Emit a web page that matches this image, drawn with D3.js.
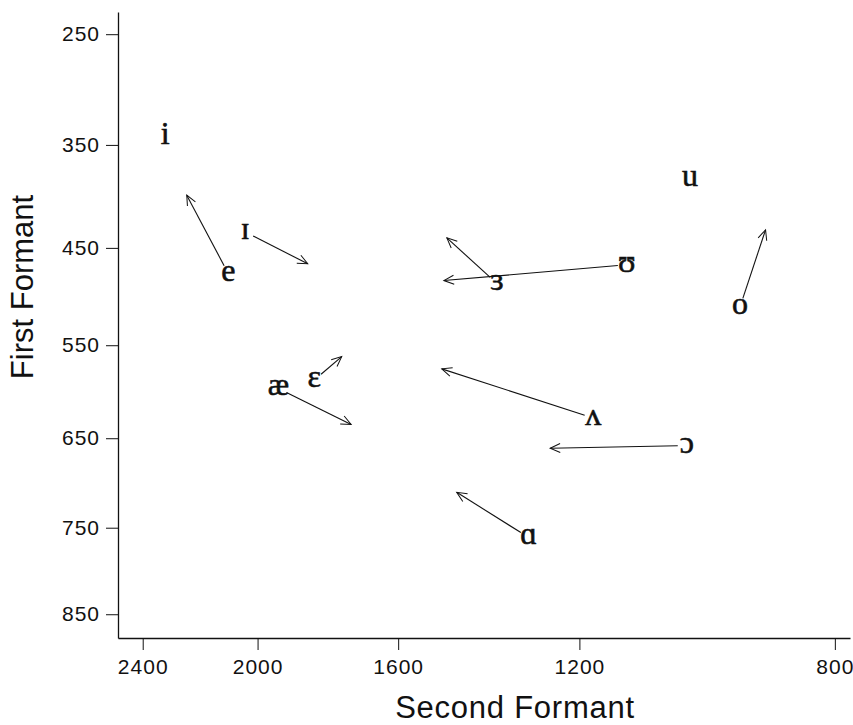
<!DOCTYPE html>
<html>
<head>
<meta charset="utf-8">
<script src="https://cdn.jsdelivr.net/npm/d3@7"></script>
<style>
  body { margin: 0; background: #fff; }
  .axis text { font-family: "Liberation Sans", Arial, sans-serif; font-size: 21px; letter-spacing: 1px; fill: #111; }
  .axis path, .axis line { stroke: #111; }
</style>
</head>
<body>
<svg id="chart"></svg>
<script>
var width = 853,
    height = 725;

// vowel, onset (F2, F1) and where the arrow goes (F2, F1), in Hz
var vowels = ['i', 'e', 'ɪ', 'ɛ', 'æ', 'ɜ', 'ʊ', 'u', 'o', 'ʌ', 'ɔ', 'ɑ'];
var f2From = [2316, 2095, 2040, 1828, 1935, 1368, 1113, 1007, 930, 1174, 1012, 1301];
var f1From = [343, 476, 434, 587, 596, 486, 467, 382, 510, 628, 658, 761];
var f2To   = [null, 2238, 1847, 1750, 1724, 1481, 1488, null, 893, 1493, 1257, 1458];
var f1To   = [null, 398, 466, 562, 635, 440, 483, null, 432, 575, 661, 710];

var f2Ticks = [2400, 2000, 1600, 1200, 800];
var f1Ticks = [250, 350, 450, 550, 650, 750, 850];

var x = d3.scaleLog().domain([2496, 781]).range([118, 850]);
var y = d3.scalePow().exponent(0.75).domain([231, 878]).range([12, 638]);

var svg = d3.select('#chart')
    .attr('width', width)
    .attr('height', height);

svg.append('defs').append('marker')
    .attr('id', 'head')
    .attr('viewBox', '-12 -7 14 14')
    .attr('refX', 0)
    .attr('refY', 0)
    .attr('markerWidth', 14)
    .attr('markerHeight', 14)
    .attr('markerUnits', 'userSpaceOnUse')
    .attr('orient', 'auto')
  .append('path')
    .attr('d', 'M-10,-4.5L0,0L-10,4.5')
    .attr('fill', 'none')
    .attr('stroke', '#111')
    .attr('stroke-width', 1);

// axes
svg.append('g')
    .attr('class', 'axis')
    .attr('transform', 'translate(0,638)')
    .call(d3.axisBottom(x)
        .tickValues(f2Ticks)
        .tickFormat(d3.format('d'))
        .tickSize(12)
        .tickSizeOuter(0)
        .tickPadding(9.5));

svg.append('g')
    .attr('class', 'axis')
    .attr('transform', 'translate(118,0)')
    .call(d3.axisLeft(y)
        .tickValues(f1Ticks)
        .tickFormat(d3.format('d'))
        .tickSize(12)
        .tickSizeOuter(0)
        .tickPadding(6));

svg.selectAll('.axis path').attr('stroke-width', 1.3);

// axis titles
svg.append('text')
    .attr('x', 515)
    .attr('y', 718)
    .attr('text-anchor', 'middle')
    .style('font-family', '"Liberation Sans", Arial, sans-serif')
    .style('font-size', '31px')
    .style('letter-spacing', '0.75px')
    .style('fill', '#111')
    .text('Second Formant');

svg.append('text')
    .attr('transform', 'translate(33,287) rotate(-90)')
    .attr('text-anchor', 'middle')
    .style('font-family', '"Liberation Sans", Arial, sans-serif')
    .style('font-size', '31px')
    .style('fill', '#111')
    .text('First Formant');

// arrows
var idx = d3.range(vowels.length).filter(function(i) { return f2To[i] != null; });
var gap = 9;

svg.append('g').selectAll('line')
    .data(idx)
  .enter().append('line')
    .each(function(i) {
      var x0 = x(f2From[i]), y0 = y(f1From[i]),
          x1 = x(f2To[i]), y1 = y(f1To[i]),
          len = Math.sqrt((x1 - x0) * (x1 - x0) + (y1 - y0) * (y1 - y0));
      d3.select(this)
          .attr('x1', x0 + (x1 - x0) * gap / len)
          .attr('y1', y0 + (y1 - y0) * gap / len)
          .attr('x2', x1)
          .attr('y2', y1);
    })
    .attr('stroke', '#111')
    .attr('stroke-width', 1.1)
    .attr('marker-end', 'url(#head)');

// vowel symbols
svg.append('g').selectAll('text')
    .data(vowels)
  .enter().append('text')
    .attr('x', function(d, i) { return x(f2From[i]); })
    .attr('y', function(d, i) { return y(f1From[i]) + 7; })
    .attr('text-anchor', 'middle')
    .style('font-family', '"Liberation Serif", "DejaVu Serif", serif')
    .style('font-size', '32px')
    .style('fill', '#111')
    .style('stroke', '#111')
    .style('stroke-width', 0.6)
    .text(function(d) { return d; });
</script>
</body>
</html>
